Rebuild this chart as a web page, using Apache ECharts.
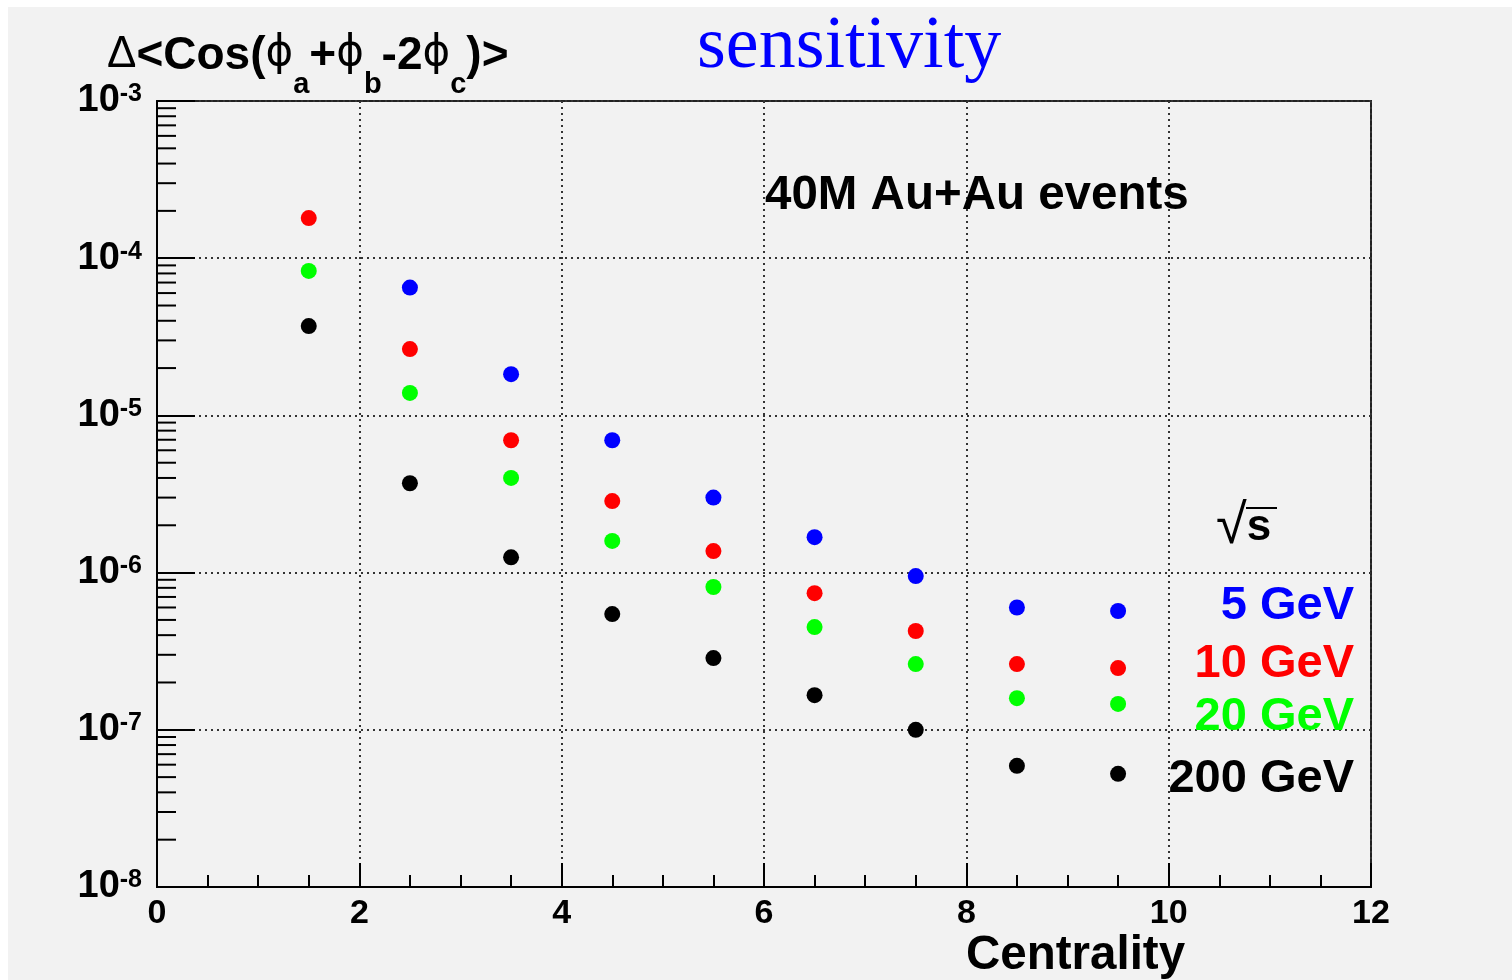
<!DOCTYPE html>
<html>
<head>
<meta charset="utf-8">
<title>sensitivity</title>
<script src="https://cdn.jsdelivr.net/npm/echarts@6/dist/echarts.min.js"></script>
<style>
  html, body { margin: 0; padding: 0; background: #ffffff; }
  #paper { position: absolute; left: 8px; top: 7px; width: 1504px; height: 973px; background: #f2f2f2; }
  #chart { position: absolute; left: 0; top: 0; width: 1512px; height: 980px; }
</style>
</head>
<body>
<div id="paper"></div>
<div id="chart"></div>
<script>
// Centrality bins (bin centres) and the expected error on <cos(phi_a+phi_b-2phi_c)>
const centrality = [1.5, 2.5, 3.5, 4.5, 5.5, 6.5, 7.5, 8.5, 9.5];
const sens5GeV   = [null, 6.5e-5, 1.83e-5, 6.95e-6, 3.0e-6, 1.68e-6, 9.5e-7, 6.0e-7, 5.7e-7];
const sens10GeV  = [1.8e-4, 2.64e-5, 6.95e-6, 2.85e-6, 1.37e-6, 7.4e-7, 4.25e-7, 2.62e-7, 2.47e-7];
const sens20GeV  = [8.3e-5, 1.39e-5, 4.0e-6, 1.59e-6, 8.1e-7, 4.5e-7, 2.62e-7, 1.59e-7, 1.46e-7];
const sens200GeV = [3.7e-5, 3.7e-6, 1.25e-6, 5.45e-7, 2.86e-7, 1.66e-7, 1.0e-7, 5.9e-8, 5.25e-8];

const energyLabels = ['5 GeV', '10 GeV', '20 GeV', '200 GeV'];
const energyColors = ['#0000ff', '#ff0000', '#00ff00', '#000000'];

// Axis ranges
const xRange = [0, 12];
const yDecades = [-8, -3];

const SANS = '"Liberation Sans", Arial, Helvetica, sans-serif';
const SERIF = '"Liberation Serif", "Times New Roman", serif';
const GREEK = '"DejaVu Sans", "Liberation Sans", sans-serif';

function pairs(values) {
  const out = [];
  values.forEach((v, i) => { if (v != null) out.push([centrality[i], v]); });
  return out;
}

// Log-spaced minor ticks (2..9 x 10^n) for the y axis
const yMinor = [];
for (let n = yDecades[0]; n < yDecades[1]; n++) {
  for (let k = 2; k <= 9; k++) yMinor.push([xRange[0], k * Math.pow(10, n)]);
}

const seriesValues = [sens5GeV, sens10GeV, sens20GeV, sens200GeV];
const scatterSeries = seriesValues.map((vals, i) => ({
  name: energyLabels[i],
  type: 'scatter',
  data: pairs(vals),
  symbol: 'circle',
  symbolSize: 16,
  itemStyle: { color: energyColors[i], opacity: 1 },
  z: 5
}));

const chart = echarts.init(document.getElementById('chart'), null, { renderer: 'canvas' });

const legendTops = [583, 641, 694, 756];

chart.setOption({
  backgroundColor: 'transparent',
  animation: false,
  textStyle: { fontFamily: SANS },
  grid: {
    left: 157, right: 141, top: 101, bottom: 93,
    show: true, borderColor: '#222', borderWidth: 2, backgroundColor: 'transparent'
  },
  title: [
    {
      text: '{d|Δ}{m|<Cos(}{p|ϕ}{s|a}{m|+}{p|ϕ}{s|b}{m|-2}{p|ϕ}{s|c}{m|)>}',
      left: 107, top: 33, padding: 0,
      textStyle: {
        rich: {
          d: { fontFamily: SANS, fontSize: 44, fontWeight: 'normal', color: '#000', lineHeight: 48, verticalAlign: 'top' },
          m: { fontFamily: SANS, fontSize: 46, fontWeight: 'bold', color: '#000', lineHeight: 48, verticalAlign: 'top' },
          p: { fontFamily: GREEK, fontSize: 42, fontWeight: 'normal', color: '#000', lineHeight: 48, verticalAlign: 'top' },
          s: { fontFamily: SANS, fontSize: 29, fontWeight: 'bold', color: '#000', lineHeight: 20, padding: [37, 0, 0, 0], verticalAlign: 'top' }
        }
      }
    },
    {
      text: 'sensitivity',
      left: 697, top: 11, padding: 0,
      textStyle: { fontFamily: SERIF, fontSize: 74, fontWeight: 'normal', color: '#0000ff', lineHeight: 74 }
    },
    {
      text: '40M Au+Au events',
      left: 765, top: 172, padding: 0,
      textStyle: { fontFamily: SANS, fontSize: 47.5, fontWeight: 'bold', color: '#000', lineHeight: 47 }
    },
    {
      text: 'Centrality',
      left: 966, top: 933, padding: 0,
      textStyle: { fontFamily: SANS, fontSize: 47.5, fontWeight: 'bold', color: '#000', lineHeight: 46 }
    },
    {
      text: '{r|√}{s|s}',
      left: 1216, top: 498, padding: 0,
      textStyle: {
        rich: {
          r: { fontFamily: SANS, fontSize: 56, fontWeight: 'normal', color: '#000', lineHeight: 60 },
          s: { fontFamily: SANS, fontSize: 44, fontWeight: 'bold', color: '#000', lineHeight: 60 }
        }
      }
    }
  ].concat(energyLabels.map((t, i) => ({
    text: t,
    right: 158, top: legendTops[i], padding: 0,
    textStyle: { fontFamily: SANS, fontSize: 47, fontWeight: 'bold', color: energyColors[i], lineHeight: 46 }
  }))),
  xAxis: {
    type: 'value',
    min: xRange[0], max: xRange[1], interval: 2,
    axisLine: { show: true, lineStyle: { color: '#000', width: 2 } },
    axisTick: { show: true, inside: true, length: 24, lineStyle: { color: '#000', width: 2 } },
    minorTick: { show: true, splitNumber: 4, length: 12, lineStyle: { color: '#000', width: 2 } },
    axisLabel: { show: true, margin: 10, fontFamily: SANS, fontSize: 34, fontWeight: 'bold', color: '#000' },
    splitLine: { show: true, lineStyle: { color: '#333', width: 2, type: [2, 4] } }
  },
  yAxis: {
    type: 'log', logBase: 10,
    min: Math.pow(10, yDecades[0]), max: Math.pow(10, yDecades[1]),
    splitNumber: yDecades[1] - yDecades[0],
    axisLine: { show: true, lineStyle: { color: '#000', width: 2 } },
    axisTick: { show: true, inside: true, length: 38, lineStyle: { color: '#000', width: 2 } },
    axisLabel: {
      show: true, margin: 15,
      formatter: v => '{m|10}{e|' + Math.round(Math.log10(v)) + '}',
      rich: {
        m: { fontFamily: SANS, fontSize: 38, fontWeight: 'bold', color: '#000', lineHeight: 38 },
        e: { fontFamily: SANS, fontSize: 25, fontWeight: 'bold', color: '#000', lineHeight: 14, verticalAlign: 'top' }
      }
    },
    splitLine: { show: true, lineStyle: { color: '#333', width: 2, type: [2, 4] } }
  },
  graphic: [
    // overbar of the square root sign
    { type: 'line', shape: { x1: 1246, y1: 508, x2: 1277, y2: 508 }, style: { stroke: '#000', lineWidth: 2 }, z: 10 }
  ],
  series: [
    {
      name: 'yMinorTicks',
      type: 'custom',
      data: yMinor,
      silent: true,
      clip: false,
      z: 4,
      renderItem: (params, api) => {
        const p = api.coord([api.value(0), api.value(1)]);
        return {
          type: 'line',
          shape: { x1: p[0], y1: p[1], x2: p[0] + 19, y2: p[1] },
          style: { stroke: '#000', lineWidth: 2 }
        };
      }
    }
  ].concat(scatterSeries)
});
</script>
</body>
</html>
